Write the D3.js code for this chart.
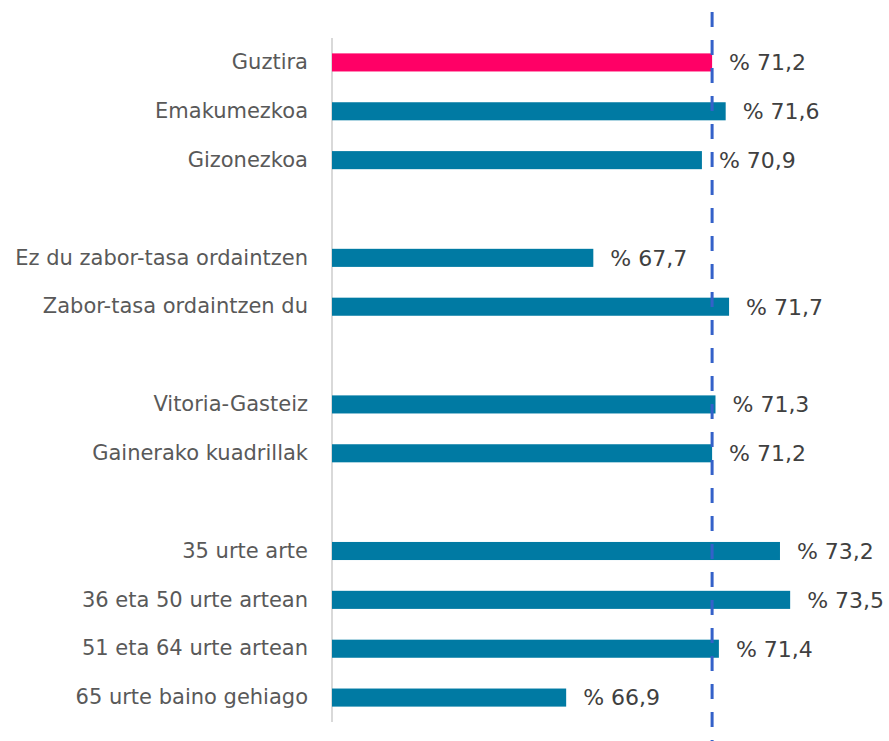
<!DOCTYPE html>
<html>
<head>
<meta charset="utf-8">
<script src="https://cdn.jsdelivr.net/npm/d3@7"></script>
<style>
  body { margin: 0; background: #ffffff; }
  svg { display: block; }
</style>
</head>
<body>
<div id="chart"></div>
<script>
// Bar chart: percentage by group (blank entries are spacers between groups)

var categories = [
  "Guztira", "Emakumezkoa", "Gizonezkoa", "",
  "Ez du zabor-tasa ordaintzen", "Zabor-tasa ordaintzen du", "",
  "Vitoria-Gasteiz", "Gainerako kuadrillak", "",
  "35 urte arte", "36 eta 50 urte artean", "51 eta 64 urte artean", "65 urte baino gehiago"
];
var values = [71.2, 71.6, 70.9, null, 67.7, 71.7, null, 71.3, 71.2, null, 73.2, 73.5, 71.4, 66.9];
var referenceValue = 71.2; // dashed line = Guztira

var svgWidth = 889;
var svgHeight = 741;

var svg = d3.select("#chart")
  .append("svg")
  .attr("width", svgWidth)
  .attr("height", svgHeight);

var rows = categories.map(function(c, i) {
  return { key: i, label: c, value: values[i] };
});

// scales
var xScale = d3.scaleLinear()
  .domain([60, 76])
  .range([332, 875]);

var yScale = d3.scaleBand()
  .domain(rows.map(d => d.key))
  .range([38, 722])
  .paddingInner(0.63)
  .paddingOuter(0.315);

// axis line
svg.append("line")
  .attr("x1", xScale(60)).attr("x2", xScale(60))
  .attr("y1", 38).attr("y2", 722)
  .attr("stroke", "#d9d9d9")
  .attr("stroke-width", 2);

// category labels
var leftAxis = d3.axisLeft(yScale)
  .tickSize(0)
  .tickPadding(24)
  .tickFormat(k => categories[k]);

var axisG = svg.append("g")
  .attr("transform", `translate(${xScale(60)}, 0)`)
  .call(leftAxis);
axisG.select(".domain").remove();
axisG.selectAll("text")
  .attr("font-family", "'DejaVu Sans', sans-serif")
  .attr("font-size", "21px")
  .attr("fill", "#595959");

var barData = rows.filter(d => d.value !== null);

// bars
svg.selectAll("rect.bar")
  .data(barData)
  .enter()
  .append("rect")
  .attr("class", "bar")
  .attr("x", xScale(60))
  .attr("y", d => yScale(d.key))
  .attr("width", d => xScale(d.value) - xScale(60))
  .attr("height", yScale.bandwidth())
  .attr("fill", d => d.key === 0 ? "#ff0066" : "#007aa3");

// value labels
svg.selectAll("text.val")
  .data(barData)
  .enter()
  .append("text")
  .attr("class", "val")
  .attr("x", d => xScale(d.value) + 17)
  .attr("y", d => yScale(d.key) + yScale.bandwidth() / 2)
  .attr("dy", "0.36em")
  .attr("font-family", "'DejaVu Sans', sans-serif")
  .attr("font-size", "22px")
  .attr("fill", "#404040")
  .text(d => "% " + String(d.value.toFixed(1)).replace(".", ","));

// dashed reference line
svg.append("line")
  .attr("x1", xScale(referenceValue)).attr("x2", xScale(referenceValue))
  .attr("y1", 12).attr("y2", svgHeight)
  .attr("stroke", "#3461c9")
  .attr("stroke-width", 3)
  .attr("stroke-dasharray", "15,13");
</script>
</body>
</html>
